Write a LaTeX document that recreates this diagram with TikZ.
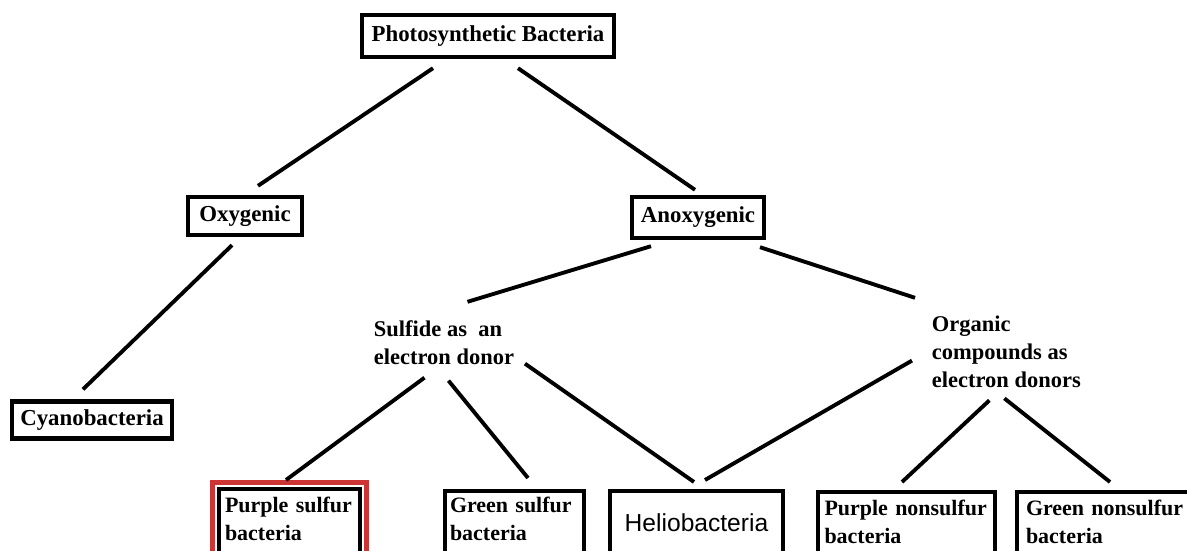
\documentclass[tikz,border=0pt]{standalone}
\usepackage{fontspec}
\setmainfont{Liberation Serif}
\newfontfamily\helvfont{Liberation Sans}
\usetikzlibrary{calc}
\definecolor{markred}{RGB}{205,52,52}
\begin{document}
\begin{tikzpicture}[x=0.02cm,y=-0.02cm,line width=2.2pt,
      every node/.style={inner sep=0pt,font=\fontsize{13}{15.9}\selectfont\bfseries},
      catbox/.style={draw,line width=2.5pt},
      leafbox/.style={draw,line width=2.5pt,anchor=north,align=left,
        font=\fontsize{12.5}{15.9}\selectfont\bfseries,text depth=1.2cm},
      note/.style={anchor=north west,align=left,font=\fontsize{12.8}{15.9}\selectfont\bfseries}]
      \useasboundingbox(0,0)rectangle(1187,551);
      \clip(0,0)rectangle(1187,551);
      \node[catbox,minimum width=5.04cm,minimum height=0.84cm](photo)at(488,36){Photosynthetic Bacteria};
      \node[catbox,minimum width=2.28cm,minimum height=0.76cm](oxy)at(245,216){Oxygenic};
      \node[catbox,minimum width=2.64cm,minimum height=0.82cm](anoxy)at(698,217.5){Anoxygenic};
      \node[catbox,minimum width=3.2cm,minimum height=0.74cm](cyano)at(92,420){Cyanobacteria};
      \node[note](sulfide)at(372,318.8){Sulfide as~ an\\electron donor};
      \node[note](organic)at(930,313.8){Organic\\compounds as\\electron donors};
      \node[leafbox,text width=2.58cm,inner xsep=0.12cm,inner ysep=0.16cm](ps)at(289.5,487)
        {Purple sulfur\\bacteria};
      \node[leafbox,text width=2.58cm,inner xsep=0.1cm,inner ysep=0.12cm](gs)at(514.5,489)
        {Green sulfur\\bacteria};
      \node[leafbox,align=center,font=\fontsize{14}{16}\selectfont\helvfont,
        minimum width=3.46cm,inner ysep=0.44cm](helio)at(696.5,489){Heliobacteria};
      \node[leafbox,text width=3.28cm,inner xsep=0.13cm,inner ysep=0.16cm](pn)at(906.5,490)
        {Purple nonsulfur\\bacteria};
      \node[leafbox,text width=3.5cm,inner xsep=0.18cm,inner ysep=0.16cm](gn)at(1113.5,490)
        {Green nonsulfur\\bacteria};
      \draw[markred,line width=2.8pt]($(ps.north west)+(-4.5,-4.5)$)rectangle($(ps.south east)+(4.5,4.5)$);
      \draw($(photo.south)+(-55,9)$)--($(oxy.north)+(13,-9)$);
      \draw($(photo.south)+(30,9)$)--($(anoxy.north)+(-3,-5)$);
      \draw($(oxy.south)+(-13,8)$)--($(cyano.north)+(-9,-10)$);
      \draw($(anoxy.south)+(-47,6)$)--($(sulfide.north)+(23.5,-17)$);
      \draw($(anoxy.south)+(62,7)$)--($(organic.north west)+(-15,-16)$);
      \draw($(sulfide.south)+(-19.5,11)$)--($(ps.north)+(-3.5,-7)$);
      \draw($(sulfide.south)+(4.5,14)$)--($(gs.north)+(13.5,-11)$);
      \draw($(sulfide.south east)+(9,-3)$)--($(helio.north)+(-2.5,-7)$);
      \draw($(organic.west)+(-18,9)$)--($(helio.north)+(8.5,-9)$);
      \draw($(organic.south)+(-17,11)$)--($(pn.north)+(-4.5,-8)$);
      \draw($(organic.south)+(-2,9)$)--($(gn.north)+(-3.5,-8)$);
    \end{tikzpicture}
\end{document}
